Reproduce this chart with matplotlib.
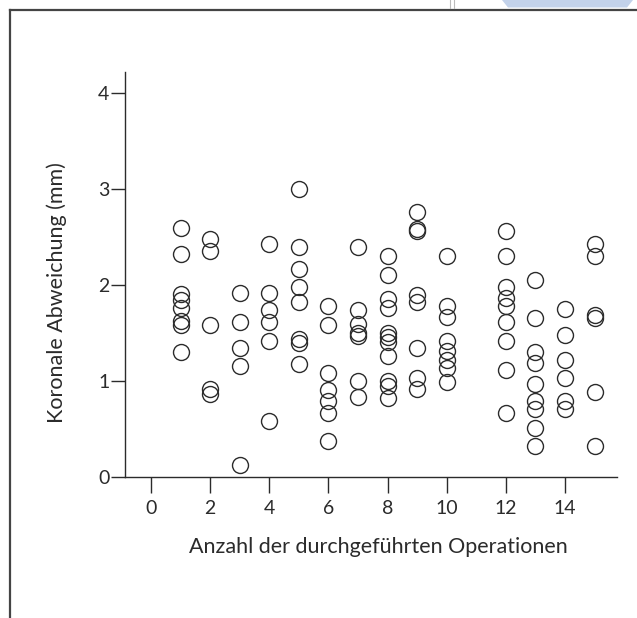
import matplotlib
matplotlib.use("Agg")
import matplotlib.pyplot as plt
from matplotlib.lines import Line2D
from matplotlib.patches import Polygon

plt.rcParams['font.family'] = ['Lato', 'DejaVu Sans']

# Number of operations performed per surgeon, with the measured coronal deviation (mm)
operations = [1, 2, 3, 4, 5, 6, 7, 8, 9, 10, 12, 13, 14, 15]
deviation = {
    1: [2.59, 2.32, 1.905, 1.84, 1.76, 1.63, 1.58, 1.30],
    2: [2.48, 2.35, 1.58, 0.92, 0.87],
    3: [1.92, 1.62, 1.34, 1.16, 0.125],
    4: [2.43, 1.92, 1.74, 1.62, 1.42, 0.58],
    5: [3.00, 2.40, 2.165, 1.98, 1.82, 1.44, 1.40, 1.18],
    6: [1.78, 1.58, 1.08, 0.91, 0.79, 0.67, 0.37],
    7: [2.40, 1.74, 1.59, 1.50, 1.47, 1.00, 0.83],
    8: [2.30, 2.10, 1.85, 1.76, 1.50, 1.46, 1.41, 1.26, 1.00, 0.95, 0.82],
    9: [2.76, 2.585, 2.56, 1.90, 1.82, 1.34, 1.03, 0.92],
    10: [2.30, 1.78, 1.67, 1.42, 1.31, 1.22, 1.14, 0.99],
    12: [2.56, 2.30, 1.98, 1.86, 1.78, 1.62, 1.42, 1.11, 0.67],
    13: [2.055, 1.66, 1.30, 1.19, 0.97, 0.79, 0.71, 0.51, 0.32],
    14: [1.75, 1.48, 1.22, 1.03, 0.79, 0.71],
    15: [2.43, 2.30, 1.69, 1.66, 0.89, 0.32],
}
x_ticks = [0, 2, 4, 6, 8, 10, 12, 14]
y_ticks = [0, 1, 2, 3, 4]
x_label = "Anzahl der durchgeführten Operationen"
y_label = "Koronale Abweichung (mm)"

xs = [n for n in operations for _ in deviation[n]]
ys = [v for n in operations for v in deviation[n]]

W, H = 637, 618
fig = plt.figure(figsize=(W / 100, H / 100), dpi=100)
fig.patch.set_facecolor("white")

ax = fig.add_axes([124.5 / W, 1 - 477 / H, (617 - 124.5) / W, (477 - 72) / H])
ink = "#2b2b2b"
ax.plot(xs, ys, linestyle="none", marker="o", markersize=11.5,
        markerfacecolor="none", markeredgecolor=ink, markeredgewidth=1.0)

ax.set_xlim(-0.9, 15.76)
ax.set_ylim(0, 4.22)
ax.set_xticks(x_ticks)
ax.set_yticks(y_ticks)

for side in ("top", "right"):
    ax.spines[side].set_visible(False)
for side in ("left", "bottom"):
    ax.spines[side].set_color(ink)
    ax.spines[side].set_linewidth(1.0)

ax.tick_params(axis="x", direction="out", length=11.5, width=1.0, color=ink,
               labelsize=14, labelcolor=ink, pad=5)
ax.tick_params(axis="y", direction="out", length=9.9, width=1.0, color=ink,
               labelsize=14, labelcolor=ink, pad=1)

fig.text(378 / W, 1 - 547 / H, x_label, ha="center", va="center",
         fontsize=15.5, color=ink)
fig.text(57 / W, 1 - 293 / H, y_label, ha="center", va="center",
         rotation=90, fontsize=15.5, color=ink)

# Page frame around the figure
frame = "#444444"
fig.add_artist(Line2D([10 / W, 1.0], [1 - 9.5 / H, 1 - 9.5 / H],
                      transform=fig.transFigure, color=frame, linewidth=1.6))
fig.add_artist(Line2D([10 / W, 10 / W], [0, 1 - 9.5 / H],
                      transform=fig.transFigure, color=frame, linewidth=1.6))

# Edge of the page header above the frame
fig.add_artist(Polygon([[502 / W, 1.0], [633 / W, 1.0], [627 / W, 1 - 7.5 / H],
                        [508 / W, 1 - 7.5 / H]], closed=True,
                       transform=fig.transFigure, facecolor="#c3d2ea",
                       edgecolor="none"))
for xp in (450, 454):
    fig.add_artist(Line2D([xp / W, xp / W], [1 - 8 / H, 1.0],
                          transform=fig.transFigure, color="#bbbbbb",
                          linewidth=0.8))

fig.savefig("out.png", dpi=100, facecolor="white")
